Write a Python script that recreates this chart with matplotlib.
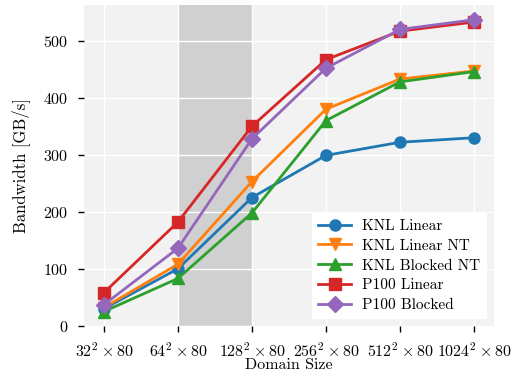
"""Bandwidth vs domain size for KNL and P100 kernels."""

import matplotlib

matplotlib.use("Agg")
import matplotlib.pyplot as plt

domain_labels = [
    r"$32^2\times 80$",
    r"$64^2\times 80$",
    r"$128^2\times 80$",
    r"$256^2\times 80$",
    r"$512^2\times 80$",
    r"$1024^2\times 80$",
]
knl_linear = [30, 100, 225, 299, 322, 330]
knl_linear_nt = [32, 108, 253, 380, 433, 447]
knl_blocked_nt = [25, 83, 198, 360, 428, 446]
p100_linear = [58, 182, 350, 467, 517, 533]
p100_blocked = [37, 136, 328, 452, 520, 537]

series = [
    ("KNL Linear", knl_linear, "o", "#1f77b4"),
    ("KNL Linear NT", knl_linear_nt, "v", "#ff7f0e"),
    ("KNL Blocked NT", knl_blocked_nt, "^", "#2ca02c"),
    ("P100 Linear", p100_linear, "s", "#d62728"),
    ("P100 Blocked", p100_blocked, "D", "#9467bd"),
]

plt.rcParams.update(
    {
        "font.family": "serif",
        "font.serif": ["cmr10", "DejaVu Serif"],
        "mathtext.fontset": "cm",
        "axes.formatter.use_mathtext": True,
        "font.size": 11.5,
        "axes.unicode_minus": False,
    }
)

fig, ax = plt.subplots(figsize=(5.15, 3.81), dpi=100)
fig.subplots_adjust(left=0.163, right=0.959, top=0.987, bottom=0.145)
ax.set_facecolor("#f2f2f2")
for spine in ax.spines.values():
    spine.set_visible(False)
ax.grid(True, color="white", linewidth=1.0)
ax.set_axisbelow(True)

x = list(range(len(domain_labels)))
ax.axvspan(1, 2, color="#d0d0d0", zorder=0.5, linewidth=0)
for label, values, marker, color in series:
    ax.plot(x, values, marker=marker, color=color, label=label, linewidth=2, markersize=8, zorder=3)

ax.set_xlim(-0.27, 5.27)
ax.set_ylim(0, 563)
ax.set_xticks(x)
ax.set_xticklabels(domain_labels)
ax.set_yticks([0, 100, 200, 300, 400, 500])
ax.tick_params(direction="out", length=4.5, width=1, color="black", pad=7, labelsize=11.5)
ax.set_xlabel("Domain Size", labelpad=-1.5)
ax.set_ylabel("Bandwidth [GB/s]", labelpad=9, fontsize=12)

leg = ax.legend(loc="lower right", frameon=True, fancybox=False, borderpad=0.38,
                labelspacing=0.4, handlelength=2.2, handletextpad=0.72, fontsize=11)
leg.get_frame().set_facecolor("white")
leg.get_frame().set_edgecolor("white")
leg.get_frame().set_alpha(1.0)

fig.savefig("out.png", dpi=100)
